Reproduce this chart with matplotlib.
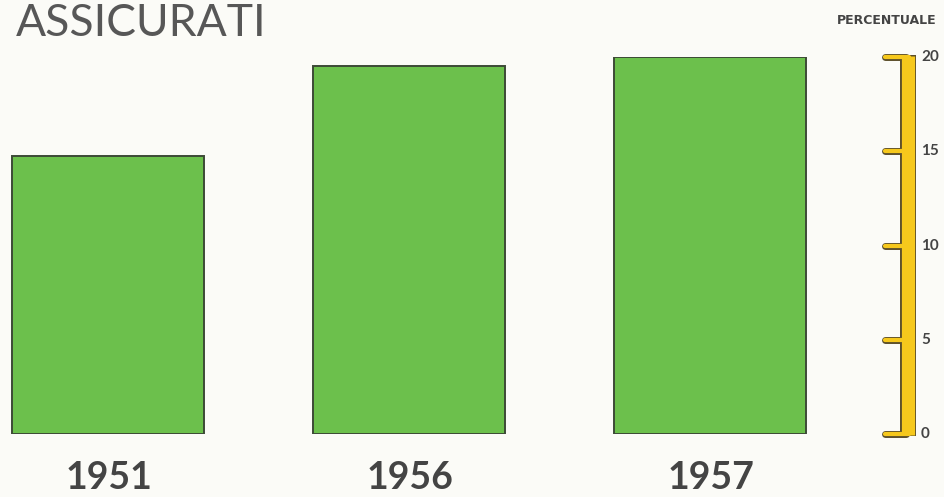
import matplotlib.pyplot as plt
import numpy as np

# data
years = ['1951', '1956', '1957']
values = [14.75, 19.5, 20.0]
scale_ticks = [0, 5, 10, 15, 20]

bg = '#fbfbf7'
green = '#6cc04c'
edge = '#3c4a36'
yellow = '#f6c81c'
dark = '#5b4e2a'
text_col = '#444444'

fig = plt.figure(figsize=(9.45, 4.97), dpi=100, facecolor=bg)

# main bars: value 0 at y=434 px, 20 at y=57 px
ax = fig.add_axes([0, 63 / 497, 1, 377 / 497])
ax.set_facecolor('none')
x = np.arange(len(years))
ax.bar(x, values, width=0.635, color=green, edgecolor=edge, linewidth=1.4)
ax.set_xlim(-108 / 301, (945 - 108) / 301)
ax.set_ylim(0, 20)
ax.axis('off')

for xi, yr in zip(x, years):
    ax.text(xi + 0.005, -1.45, yr, ha='center', va='top', fontsize=27,
            family='Lato', fontweight='bold', color=text_col, clip_on=False)

# percent scale on the right
sx = fig.add_axes([875 / 945, 63 / 497, 70 / 945, 377 / 497])
sx.set_facecolor('none')
sx.set_xlim(0, 70)
sx.set_ylim(0, 20)
sx.axis('off')

sx.plot([33, 33], [-0.12, 20.12], color=dark, lw=11.5, solid_capstyle='butt', clip_on=False)
for t in scale_ticks:
    sx.plot([10, 31], [t, t], color=dark, lw=5, solid_capstyle='round', clip_on=False)
sx.plot([33, 33], [-0.06, 20.06], color=yellow, lw=9.5, solid_capstyle='butt', clip_on=False, zorder=3)
for t in scale_ticks:
    sx.plot([10, 34], [t, t], color=yellow, lw=3, solid_capstyle='round', clip_on=False, zorder=3)
    sx.text(46, t, str(t), ha='left', va='center', fontsize=11,
            family='Lato', fontweight='bold', color=text_col, clip_on=False)

fig.text(887 / 945, 1 - 21 / 497, 'PERCENTUALE', ha='center', va='center',
         fontsize=9, family=['Liberation Sans Narrow', 'DejaVu Sans'],
         fontweight='bold', color=text_col)

fig.text(16 / 945, 1 - 36 / 497, 'ASSICURATI', ha='left', va='baseline',
         fontsize=32, family='Lato', fontweight='normal', color='#575757')

fig.savefig('out.png', dpi=100, facecolor=bg)
